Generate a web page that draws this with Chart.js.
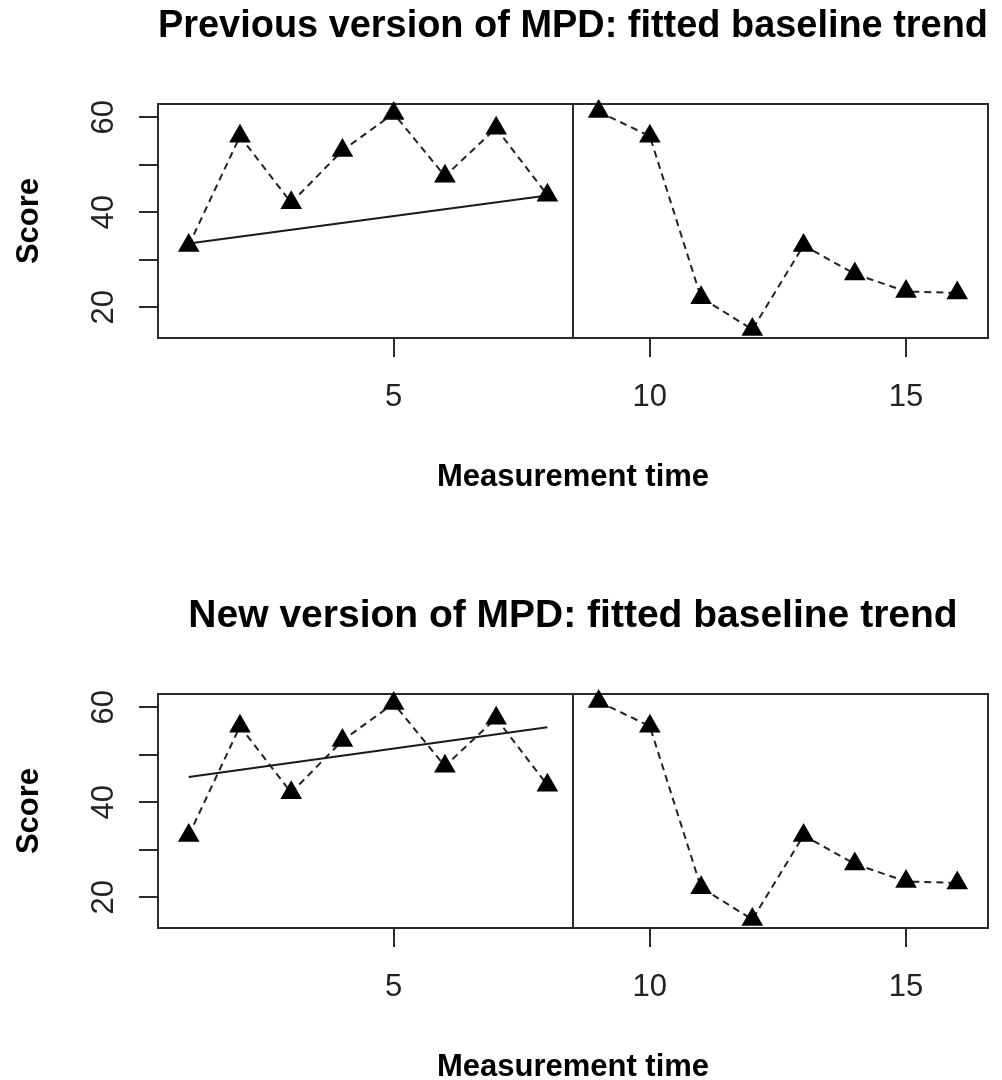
<!DOCTYPE html>
<html>
<head>
<meta charset="utf-8">
<script src="https://cdn.jsdelivr.net/npm/chart.js@4.4.1/dist/chart.umd.min.js"></script>
<style>
  body { margin: 0; background: #fff; width: 1002px; height: 1080px; overflow: hidden; position: relative; }
  .panel { position: absolute; left: 0; width: 1002px; height: 590px; }
</style>
</head>
<body>
<div class="panel" style="top:0"><canvas id="prevChart" width="1002" height="590"></canvas></div>
<div class="panel" style="top:590px"><canvas id="newChart" width="1002" height="590"></canvas></div>
<script>
// measurement times and scores (same series in both panels)
const baselineTimes = [1, 2, 3, 4, 5, 6, 7, 8];
const baselineScores = [33, 56, 42, 53, 60.8, 47.6, 57.7, 43.6];
const treatmentTimes = [9, 10, 11, 12, 13, 14, 15, 16];
const treatmentScores = [61.2, 56, 22, 15.3, 33, 27, 23.3, 23];

// fitted baseline trend, start and end of the baseline phase
const trendTimes = [1, 8];
const prevTrend = [33.4, 43.5];
const newTrend = [45.3, 55.8];

const phaseBreak = 8.5;

const xTicks = [5, 10, 15];
const yTicks = [20, 30, 40, 50, 60];
const yLabels = [20, 40, 60];

const fontFamily = '"Liberation Sans", Arial, sans-serif';
const frameColor = '#2b2b2b';

const toPoints = (xs, ys) => xs.map((x, i) => ({x: x, y: ys[i]}));

const phaseLine = {
  id: 'phaseLine',
  afterDatasetsDraw(chart) {
    const {ctx, chartArea, scales} = chart;
    const px = Math.round(scales.x.getPixelForValue(phaseBreak));
    ctx.save();
    ctx.strokeStyle = frameColor;
    ctx.lineWidth = 2;
    ctx.beginPath();
    ctx.moveTo(px, chartArea.top);
    ctx.lineTo(px, chartArea.bottom);
    ctx.stroke();
    ctx.restore();
  }
};

function scoreSeries(xs, ys) {
  return {
    data: toPoints(xs, ys),
    borderColor: '#222',
    borderWidth: 2,
    borderDash: [7, 5],
    pointStyle: 'triangle',
    pointRadius: 12.5,
    pointHoverRadius: 12.5,
    pointBackgroundColor: '#000',
    pointBorderWidth: 0,
    tension: 0,
    clip: false
  };
}

function makeChart(id, titleText, trend) {
  return new Chart(document.getElementById(id), {
    type: 'line',
    data: {
      datasets: [
        scoreSeries(baselineTimes, baselineScores),
        scoreSeries(treatmentTimes, treatmentScores),
        {
          data: toPoints(trendTimes, trend),
          borderColor: '#1a1a1a',
          borderWidth: 2,
          pointRadius: 0,
          tension: 0,
          clip: false
        }
      ]
    },
    options: {
      responsive: false,
      animation: false,
      events: [],
      plugins: {
        legend: { display: false },
        tooltip: { enabled: false }
      },
      layout: { padding: 0 },
      scales: {
        x: {
          type: 'linear',
          position: 'bottom',
          min: 0.4,
          max: 16.6,
          afterBuildTicks: s => { s.ticks = xTicks.map(v => ({value: v})); },
          afterFit: s => { s.height = 252; },
          grid: { drawOnChartArea: false, tickLength: 19, color: frameColor, lineWidth: 2 },
          border: { color: frameColor, width: 2 },
          ticks: { font: {family: fontFamily, size: 31}, color: '#222', padding: 22, maxRotation: 0, autoSkip: false },
          title: {
            display: true,
            text: 'Measurement time',
            font: {family: fontFamily, size: 31, weight: 'bold'},
            color: '#000',
            padding: {top: 0, bottom: 94}
          }
        },
        y: {
          type: 'linear',
          position: 'left',
          min: 13.5,
          max: 62.8,
          afterBuildTicks: s => { s.ticks = yTicks.map(v => ({value: v})); },
          afterFit: s => { s.width = 158; },
          grid: { drawOnChartArea: false, tickLength: 19, color: frameColor, lineWidth: 2 },
          border: { color: frameColor, width: 2 },
          ticks: {
            font: {family: fontFamily, size: 31},
            color: '#222',
            minRotation: 90,
            maxRotation: 90,
            crossAlign: 'center',
            padding: 17,
            autoSkip: false,
            callback: v => yLabels.includes(v) ? String(v) : ''
          },
          title: {
            display: true,
            text: 'Score',
            font: {family: fontFamily, size: 31, weight: 'bold'},
            color: '#000',
            padding: {top: 11, bottom: 0}
          }
        },
        x2: {
          type: 'linear',
          position: 'top',
          min: 0.4,
          max: 16.6,
          afterFit: s => { s.height = 104; },
          grid: { display: false },
          ticks: { display: false },
          border: { color: frameColor, width: 2 },
          title: {
            display: true,
            text: titleText,
            font: {family: fontFamily, size: 39, weight: 'bold'},
            color: '#000',
            padding: {top: 3, bottom: 0}
          }
        },
        y2: {
          type: 'linear',
          position: 'right',
          min: 13.5,
          max: 62.8,
          afterFit: s => { s.width = 14; },
          grid: { display: false },
          ticks: { display: false },
          border: { color: frameColor, width: 2 }
        }
      }
    },
    plugins: [phaseLine]
  });
}

const prevChart = makeChart('prevChart', 'Previous version of MPD: fitted baseline trend', prevTrend);
const newChart = makeChart('newChart', 'New version of MPD: fitted baseline trend', newTrend);
</script>
</body>
</html>
